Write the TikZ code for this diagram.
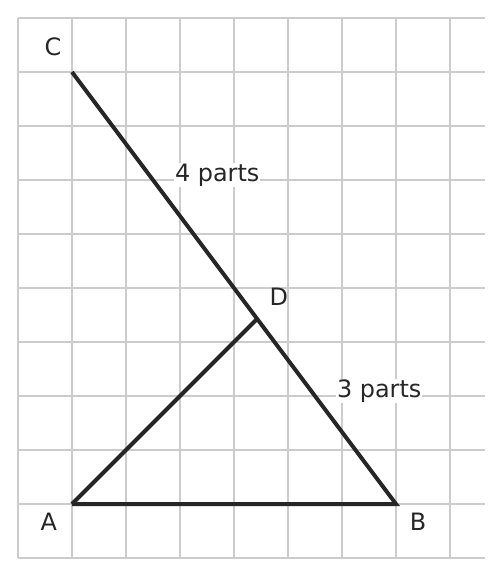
\documentclass[tikz,border=0pt]{standalone}
\usepackage{fontspec}
\setmainfont{DejaVu Sans}
\usetikzlibrary{calc}
\begin{document}
\begin{tikzpicture}[
    gridline/.style={draw=black!20, line width=1pt},
    side/.style={draw=black!85, line width=2.1pt},
    lbl/.style={font=\fontsize{12.6}{15}\selectfont, text=black!85, inner sep=0.5pt},
    partlbl/.style={lbl, fill=white}
]
        \useasboundingbox (-1.333,-1.333) rectangle (7.963,9.333);
        % Grid
        \draw[gridline] (-1,-1) grid (7.65,9);

        % Points of the triangle
        \coordinate (A) at (0,0);
        \coordinate (B) at (6,0);
        \coordinate (C) at (0,8);
        \coordinate (D) at ($(C)!4/7!(B)$);

        % Sides
        \draw[side] (A) -- (B) -- (C);
        \draw[side] (A) -- (D);

        % Labels
        \node[lbl] (lA) at (-0.43,-0.32) {A};
        \node[lbl] (lB) at (6.41,-0.33) {B};
        \node[lbl] (lC) at (-0.35,8.46) {C};
        \node[lbl] (lD) at (3.83,3.83) {D};
        \node[partlbl] (lCD) at (2.69,6.09) {4 parts};
        \node[partlbl] (lDB) at (5.69,2.09) {3 parts};
    \end{tikzpicture}
\end{document}
